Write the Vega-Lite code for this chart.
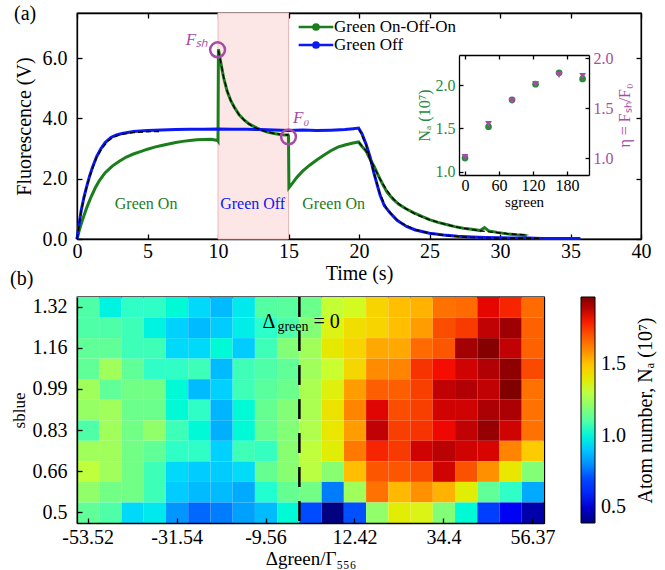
{
"$schema": "https://vega.github.io/schema/vega-lite/v6.json",
"background": "white",
"padding": {"left": 9, "top": 3, "right": 5, "bottom": 5},
"config": {
  "font": "Liberation Serif",
  "text": {"font": "Liberation Serif"},
  "view": {"stroke": "black", "strokeWidth": 1.3},
  "axis": {"labelFont": "Liberation Serif", "titleFont": "Liberation Serif", "labelFontSize": 20, "titleFontSize": 20, "titleFontWeight": "normal", "labelColor": "black", "titleColor": "black", "domainColor": "black", "tickColor": "black", "domainWidth": 1.3, "tickWidth": 1.3, "tickSize": -5, "grid": false, "labelFlush": false, "labelOverlap": false},
  "legend": {"labelFont": "Liberation Serif", "titleFont": "Liberation Serif"},
  "title": {"font": "Liberation Serif", "fontWeight": "normal", "fontSize": 20}
},
"datasets": {
  "shade": [{"t0": 10, "t1": 15}],
  "traces": [
    {"s":"Green On-Off-On","t":0,"V":0},{"s":"Green On-Off-On","t":0.2,"V":0.35},{"s":"Green On-Off-On","t":0.4,"V":0.65},{"s":"Green On-Off-On","t":0.7,"V":1.05},{"s":"Green On-Off-On","t":1.0,"V":1.4},{"s":"Green On-Off-On","t":1.3,"V":1.7},{"s":"Green On-Off-On","t":1.6,"V":1.95},{"s":"Green On-Off-On","t":2.0,"V":2.2},{"s":"Green On-Off-On","t":2.5,"V":2.42},{"s":"Green On-Off-On","t":3.0,"V":2.58},{"s":"Green On-Off-On","t":3.5,"V":2.72},{"s":"Green On-Off-On","t":4.0,"V":2.82},{"s":"Green On-Off-On","t":4.5,"V":2.9},{"s":"Green On-Off-On","t":5.0,"V":2.98},{"s":"Green On-Off-On","t":5.5,"V":3.05},{"s":"Green On-Off-On","t":6.0,"V":3.1},{"s":"Green On-Off-On","t":6.5,"V":3.15},{"s":"Green On-Off-On","t":7.0,"V":3.2},{"s":"Green On-Off-On","t":7.5,"V":3.24},{"s":"Green On-Off-On","t":8.0,"V":3.27},{"s":"Green On-Off-On","t":8.5,"V":3.29},{"s":"Green On-Off-On","t":9.0,"V":3.3},{"s":"Green On-Off-On","t":9.5,"V":3.31},{"s":"Green On-Off-On","t":9.97,"V":3.27},{"s":"Green On-Off-On","t":10.0,"V":3.25},{"s":"Green On-Off-On","t":10.03,"V":6.3},{"s":"Green On-Off-On","t":10.2,"V":5.85},{"s":"Green On-Off-On","t":10.4,"V":5.35},{"s":"Green On-Off-On","t":10.65,"V":4.9},{"s":"Green On-Off-On","t":10.9,"V":4.6},{"s":"Green On-Off-On","t":11.15,"V":4.38},{"s":"Green On-Off-On","t":11.5,"V":4.12},{"s":"Green On-Off-On","t":11.85,"V":3.95},{"s":"Green On-Off-On","t":12.2,"V":3.82},{"s":"Green On-Off-On","t":12.6,"V":3.72},{"s":"Green On-Off-On","t":13.0,"V":3.63},{"s":"Green On-Off-On","t":13.5,"V":3.55},{"s":"Green On-Off-On","t":14.0,"V":3.5},{"s":"Green On-Off-On","t":14.5,"V":3.46},{"s":"Green On-Off-On","t":14.97,"V":3.45},{"s":"Green On-Off-On","t":15.0,"V":3.42},{"s":"Green On-Off-On","t":15.03,"V":1.7},{"s":"Green On-Off-On","t":15.3,"V":1.86},{"s":"Green On-Off-On","t":15.6,"V":2.05},{"s":"Green On-Off-On","t":16.0,"V":2.25},{"s":"Green On-Off-On","t":16.5,"V":2.45},{"s":"Green On-Off-On","t":17.0,"V":2.62},{"s":"Green On-Off-On","t":17.5,"V":2.78},{"s":"Green On-Off-On","t":18.0,"V":2.93},{"s":"Green On-Off-On","t":18.5,"V":3.05},{"s":"Green On-Off-On","t":19.0,"V":3.12},{"s":"Green On-Off-On","t":19.5,"V":3.18},{"s":"Green On-Off-On","t":19.97,"V":3.22},{"s":"Green On-Off-On","t":20.2,"V":3.08},{"s":"Green On-Off-On","t":20.5,"V":2.92},{"s":"Green On-Off-On","t":20.8,"V":2.64},{"s":"Green On-Off-On","t":21.1,"V":2.38},{"s":"Green On-Off-On","t":21.4,"V":2.08},{"s":"Green On-Off-On","t":21.7,"V":1.8},{"s":"Green On-Off-On","t":22.0,"V":1.55},{"s":"Green On-Off-On","t":22.4,"V":1.33},{"s":"Green On-Off-On","t":22.8,"V":1.16},{"s":"Green On-Off-On","t":23.3,"V":1.01},{"s":"Green On-Off-On","t":23.9,"V":0.87},{"s":"Green On-Off-On","t":24.5,"V":0.74},{"s":"Green On-Off-On","t":25.0,"V":0.64},{"s":"Green On-Off-On","t":25.6,"V":0.55},{"s":"Green On-Off-On","t":26.2,"V":0.48},{"s":"Green On-Off-On","t":26.8,"V":0.41},{"s":"Green On-Off-On","t":27.4,"V":0.36},{"s":"Green On-Off-On","t":28.0,"V":0.32},{"s":"Green On-Off-On","t":28.6,"V":0.28},{"s":"Green On-Off-On","t":28.9,"V":0.38},{"s":"Green On-Off-On","t":29.2,"V":0.27},{"s":"Green On-Off-On","t":29.8,"V":0.22},{"s":"Green On-Off-On","t":30.5,"V":0.17},{"s":"Green On-Off-On","t":31.2,"V":0.14},{"s":"Green On-Off-On","t":31.9,"V":0.12},
    {"s":"Green Off","t":0,"V":0},{"s":"Green Off","t":0.15,"V":0.5},{"s":"Green Off","t":0.3,"V":0.95},{"s":"Green Off","t":0.5,"V":1.4},{"s":"Green Off","t":0.7,"V":1.76},{"s":"Green Off","t":0.9,"V":2.1},{"s":"Green Off","t":1.1,"V":2.38},{"s":"Green Off","t":1.4,"V":2.74},{"s":"Green Off","t":1.7,"V":3.0},{"s":"Green Off","t":2.0,"V":3.2},{"s":"Green Off","t":2.4,"V":3.37},{"s":"Green Off","t":2.8,"V":3.45},{"s":"Green Off","t":3.2,"V":3.5},{"s":"Green Off","t":4.0,"V":3.57},{"s":"Green Off","t":5.0,"V":3.6},{"s":"Green Off","t":6.0,"V":3.62},{"s":"Green Off","t":7.0,"V":3.63},{"s":"Green Off","t":8.0,"V":3.64},{"s":"Green Off","t":9.0,"V":3.64},{"s":"Green Off","t":10.0,"V":3.65},{"s":"Green Off","t":11.0,"V":3.64},{"s":"Green Off","t":12.0,"V":3.64},{"s":"Green Off","t":13.0,"V":3.63},{"s":"Green Off","t":14.0,"V":3.62},{"s":"Green Off","t":15.0,"V":3.6},{"s":"Green Off","t":16.0,"V":3.62},{"s":"Green Off","t":17.0,"V":3.6},{"s":"Green Off","t":18.0,"V":3.61},{"s":"Green Off","t":19.0,"V":3.63},{"s":"Green Off","t":19.6,"V":3.66},{"s":"Green Off","t":19.97,"V":3.68},{"s":"Green Off","t":20.2,"V":3.5},{"s":"Green Off","t":20.5,"V":3.15},{"s":"Green Off","t":20.8,"V":2.7},{"s":"Green Off","t":21.05,"V":2.2},{"s":"Green Off","t":21.3,"V":1.78},{"s":"Green Off","t":21.5,"V":1.45},{"s":"Green Off","t":21.8,"V":1.1},{"s":"Green Off","t":22.2,"V":0.87},{"s":"Green Off","t":22.7,"V":0.62},{"s":"Green Off","t":23.4,"V":0.41},{"s":"Green Off","t":24.0,"V":0.3},{"s":"Green Off","t":25.0,"V":0.19},{"s":"Green Off","t":26.0,"V":0.13},{"s":"Green Off","t":27.0,"V":0.09},{"s":"Green Off","t":28.0,"V":0.07},{"s":"Green Off","t":29.0,"V":0.05},{"s":"Green Off","t":30.0,"V":0.04},{"s":"Green Off","t":31.0,"V":0.03},{"s":"Green Off","t":32.0,"V":0.03},{"s":"Green Off","t":33.0,"V":0.02},{"s":"Green Off","t":34.0,"V":0.02},{"s":"Green Off","t":35.0,"V":0.02},{"s":"Green Off","t":35.7,"V":0.02}
  ],
  "fits": [
    {"g":"a","t":0,"V":0},{"g":"a","t":0.3,"V":0.95},{"g":"a","t":0.7,"V":1.76},{"g":"a","t":1.0,"V":2.2},{"g":"a","t":1.4,"V":2.72},{"g":"a","t":1.8,"V":3.02},{"g":"a","t":2.2,"V":3.25},{"g":"a","t":2.6,"V":3.38},{"g":"a","t":3.0,"V":3.45},{"g":"a","t":3.5,"V":3.5},{"g":"a","t":4.0,"V":3.53},{"g":"a","t":5.0,"V":3.56},{"g":"a","t":6.0,"V":3.57},
    {"g":"b","t":10.03,"V":6.25},{"g":"b","t":10.2,"V":5.85},{"g":"b","t":10.4,"V":5.38},{"g":"b","t":10.65,"V":4.92},{"g":"b","t":10.9,"V":4.6},{"g":"b","t":11.2,"V":4.33},{"g":"b","t":11.5,"V":4.12},{"g":"b","t":12.0,"V":3.88},{"g":"b","t":12.5,"V":3.72},{"g":"b","t":13.0,"V":3.62},{"g":"b","t":13.5,"V":3.55},{"g":"b","t":14.0,"V":3.5},{"g":"b","t":14.5,"V":3.47},{"g":"b","t":15.0,"V":3.45},
    {"g":"c","t":20.0,"V":3.2},{"g":"c","t":20.5,"V":2.93},{"g":"c","t":21.0,"V":2.45},{"g":"c","t":21.5,"V":1.98},{"g":"c","t":22.0,"V":1.6},{"g":"c","t":22.5,"V":1.3},{"g":"c","t":23.0,"V":1.1},{"g":"c","t":24.0,"V":0.82},{"g":"c","t":25.0,"V":0.64},{"g":"c","t":26.0,"V":0.5},{"g":"c","t":27.0,"V":0.39},{"g":"c","t":28.0,"V":0.31},{"g":"c","t":29.0,"V":0.25},{"g":"c","t":30.0,"V":0.2},{"g":"c","t":31.0,"V":0.16},{"g":"c","t":32.0,"V":0.13},
    {"g":"d","t":20.0,"V":3.65},{"g":"d","t":20.5,"V":3.12},{"g":"d","t":21.0,"V":2.3},{"g":"d","t":21.5,"V":1.48},{"g":"d","t":22.0,"V":0.98},{"g":"d","t":22.5,"V":0.72},{"g":"d","t":23.0,"V":0.53},{"g":"d","t":24.0,"V":0.31},{"g":"d","t":25.0,"V":0.19},{"g":"d","t":26.0,"V":0.12},{"g":"d","t":27.0,"V":0.08},{"g":"d","t":28.0,"V":0.05},{"g":"d","t":30.0,"V":0.03},{"g":"d","t":33.0,"V":0.02}
  ],
  "circles": [{"t": 9.97, "V": 6.28}, {"t": 15.0, "V": 3.39}],
  "flabels": [{"t": 8.5, "V": 6.62, "label": "Fₛₕ"}, {"t": 15.9, "V": 4.02, "label": "F₀"}],
  "greenText": [{"t": 4.9, "V": 1.17, "label": "Green On"}, {"t": 18.2, "V": 1.17, "label": "Green On"}],
  "blueText": [{"t": 12.46, "V": 1.17, "label": "Green Off"}],
  "inset": [
    {"s": 0, "N": 1.16, "eta": 1.01}, {"s": 41.5, "N": 1.52, "eta": 1.34}, {"s": 83, "N": 1.83, "eta": 1.57},
    {"s": 124.5, "N": 2.01, "eta": 1.74}, {"s": 166, "N": 2.14, "eta": 1.83}, {"s": 207.5, "N": 2.07, "eta": 1.82}
  ],
  "zero": [{"d": 1.43, "sb": 1.24}],
  "cells": [
{"d":-53.52,"sb":1.32,"N":1.10},{"d":-48.03,"sb":1.32,"N":0.99},{"d":-42.53,"sb":1.32,"N":1.04},{"d":-37.04,"sb":1.32,"N":1.04},{"d":-31.54,"sb":1.32,"N":1.01},{"d":-26.05,"sb":1.32,"N":0.935},{"d":-20.55,"sb":1.32,"N":0.88},{"d":-15.06,"sb":1.32,"N":0.97},{"d":-9.56,"sb":1.32,"N":1.11},{"d":-4.07,"sb":1.32,"N":1.12},{"d":1.43,"sb":1.32,"N":1.15},{"d":6.92,"sb":1.32,"N":1.32},{"d":12.42,"sb":1.32,"N":1.35},{"d":17.91,"sb":1.32,"N":1.46},{"d":23.41,"sb":1.32,"N":1.51},{"d":28.9,"sb":1.32,"N":1.53},{"d":34.4,"sb":1.32,"N":1.64},{"d":39.89,"sb":1.32,"N":1.65},{"d":45.39,"sb":1.32,"N":1.83},{"d":50.88,"sb":1.32,"N":1.79},{"d":56.37,"sb":1.32,"N":1.65},
{"d":-53.52,"sb":1.24,"N":1.10},{"d":-48.03,"sb":1.24,"N":1.10},{"d":-42.53,"sb":1.24,"N":1.07},{"d":-37.04,"sb":1.24,"N":0.99},{"d":-31.54,"sb":1.24,"N":0.92},{"d":-26.05,"sb":1.24,"N":0.88},{"d":-20.55,"sb":1.24,"N":0.91},{"d":-15.06,"sb":1.24,"N":0.98},{"d":-9.56,"sb":1.24,"N":1.03},{"d":-4.07,"sb":1.24,"N":1.10},{"d":1.43,"sb":1.24,"N":1.19},{"d":6.92,"sb":1.24,"N":1.37},{"d":12.42,"sb":1.24,"N":1.43},{"d":17.91,"sb":1.24,"N":1.46},{"d":23.41,"sb":1.24,"N":1.51},{"d":28.9,"sb":1.24,"N":1.57},{"d":34.4,"sb":1.24,"N":1.72},{"d":39.89,"sb":1.24,"N":1.76},{"d":45.39,"sb":1.24,"N":1.88},{"d":50.88,"sb":1.24,"N":1.93},{"d":56.37,"sb":1.24,"N":1.67},
{"d":-53.52,"sb":1.16,"N":1.13},{"d":-48.03,"sb":1.16,"N":1.13},{"d":-42.53,"sb":1.16,"N":1.07},{"d":-37.04,"sb":1.16,"N":1.07},{"d":-31.54,"sb":1.16,"N":0.935},{"d":-26.05,"sb":1.16,"N":0.935},{"d":-20.55,"sb":1.16,"N":1.01},{"d":-15.06,"sb":1.16,"N":0.91},{"d":-9.56,"sb":1.16,"N":1.07},{"d":-4.07,"sb":1.16,"N":1.19},{"d":1.43,"sb":1.16,"N":1.25},{"d":6.92,"sb":1.16,"N":1.40},{"d":12.42,"sb":1.16,"N":1.46},{"d":17.91,"sb":1.16,"N":1.55},{"d":23.41,"sb":1.16,"N":1.55},{"d":28.9,"sb":1.16,"N":1.65},{"d":34.4,"sb":1.16,"N":1.70},{"d":39.89,"sb":1.16,"N":1.92},{"d":45.39,"sb":1.16,"N":1.96},{"d":50.88,"sb":1.16,"N":1.88},{"d":56.37,"sb":1.16,"N":1.67},
{"d":-53.52,"sb":1.07,"N":1.13},{"d":-48.03,"sb":1.07,"N":1.25},{"d":-42.53,"sb":1.07,"N":1.13},{"d":-37.04,"sb":1.07,"N":1.04},{"d":-31.54,"sb":1.07,"N":1.04},{"d":-26.05,"sb":1.07,"N":1.07},{"d":-20.55,"sb":1.07,"N":0.88},{"d":-15.06,"sb":1.07,"N":1.07},{"d":-9.56,"sb":1.07,"N":1.10},{"d":-4.07,"sb":1.07,"N":1.13},{"d":1.43,"sb":1.07,"N":1.25},{"d":6.92,"sb":1.07,"N":1.33},{"d":12.42,"sb":1.07,"N":1.45},{"d":17.91,"sb":1.07,"N":1.60},{"d":23.41,"sb":1.07,"N":1.61},{"d":28.9,"sb":1.07,"N":1.77},{"d":34.4,"sb":1.07,"N":1.81},{"d":39.89,"sb":1.07,"N":1.86},{"d":45.39,"sb":1.07,"N":1.90},{"d":50.88,"sb":1.07,"N":1.95},{"d":56.37,"sb":1.07,"N":1.73},
{"d":-53.52,"sb":0.99,"N":1.25},{"d":-48.03,"sb":0.99,"N":1.13},{"d":-42.53,"sb":0.99,"N":1.16},{"d":-37.04,"sb":0.99,"N":1.16},{"d":-31.54,"sb":0.99,"N":1.01},{"d":-26.05,"sb":0.99,"N":0.88},{"d":-20.55,"sb":0.99,"N":0.92},{"d":-15.06,"sb":0.99,"N":1.07},{"d":-9.56,"sb":0.99,"N":1.12},{"d":-4.07,"sb":0.99,"N":1.15},{"d":1.43,"sb":0.99,"N":1.27},{"d":6.92,"sb":0.99,"N":1.38},{"d":12.42,"sb":0.99,"N":1.57},{"d":17.91,"sb":0.99,"N":1.68},{"d":23.41,"sb":0.99,"N":1.68},{"d":28.9,"sb":0.99,"N":1.75},{"d":34.4,"sb":0.99,"N":1.88},{"d":39.89,"sb":0.99,"N":1.90},{"d":45.39,"sb":0.99,"N":1.88},{"d":50.88,"sb":0.99,"N":1.97},{"d":56.37,"sb":0.99,"N":1.64},
{"d":-53.52,"sb":0.91,"N":1.23},{"d":-48.03,"sb":0.91,"N":1.25},{"d":-42.53,"sb":0.91,"N":1.15},{"d":-37.04,"sb":0.91,"N":1.15},{"d":-31.54,"sb":0.91,"N":1.01},{"d":-26.05,"sb":0.91,"N":1.04},{"d":-20.55,"sb":0.91,"N":0.87},{"d":-15.06,"sb":0.91,"N":1.01},{"d":-9.56,"sb":0.91,"N":1.14},{"d":-4.07,"sb":0.91,"N":1.19},{"d":1.43,"sb":0.91,"N":1.27},{"d":6.92,"sb":0.91,"N":1.42},{"d":12.42,"sb":0.91,"N":1.61},{"d":17.91,"sb":0.91,"N":1.84},{"d":23.41,"sb":0.91,"N":1.72},{"d":28.9,"sb":0.91,"N":1.75},{"d":34.4,"sb":0.91,"N":1.86},{"d":39.89,"sb":0.91,"N":1.86},{"d":45.39,"sb":0.91,"N":1.91},{"d":50.88,"sb":0.91,"N":1.91},{"d":56.37,"sb":0.91,"N":1.64},
{"d":-53.52,"sb":0.83,"N":1.10},{"d":-48.03,"sb":0.83,"N":1.25},{"d":-42.53,"sb":0.83,"N":1.16},{"d":-37.04,"sb":0.83,"N":1.22},{"d":-31.54,"sb":0.83,"N":1.07},{"d":-26.05,"sb":0.83,"N":1.01},{"d":-20.55,"sb":0.83,"N":0.86},{"d":-15.06,"sb":0.83,"N":1.01},{"d":-9.56,"sb":0.83,"N":1.14},{"d":-4.07,"sb":0.83,"N":1.19},{"d":1.43,"sb":0.83,"N":1.28},{"d":6.92,"sb":0.83,"N":1.41},{"d":12.42,"sb":0.83,"N":1.57},{"d":17.91,"sb":0.83,"N":1.88},{"d":23.41,"sb":0.83,"N":1.75},{"d":28.9,"sb":0.83,"N":1.77},{"d":34.4,"sb":0.83,"N":1.82},{"d":39.89,"sb":0.83,"N":1.88},{"d":45.39,"sb":0.83,"N":1.94},{"d":50.88,"sb":0.83,"N":1.86},{"d":56.37,"sb":0.83,"N":1.64},
{"d":-53.52,"sb":0.75,"N":1.25},{"d":-48.03,"sb":0.75,"N":1.25},{"d":-42.53,"sb":0.75,"N":1.16},{"d":-37.04,"sb":0.75,"N":1.13},{"d":-31.54,"sb":0.75,"N":1.04},{"d":-26.05,"sb":0.75,"N":1.04},{"d":-20.55,"sb":0.75,"N":0.92},{"d":-15.06,"sb":0.75,"N":1.07},{"d":-9.56,"sb":0.75,"N":1.05},{"d":-4.07,"sb":0.75,"N":1.20},{"d":1.43,"sb":0.75,"N":1.31},{"d":6.92,"sb":0.75,"N":1.39},{"d":12.42,"sb":0.75,"N":1.63},{"d":17.91,"sb":0.75,"N":1.79},{"d":23.41,"sb":0.75,"N":1.76},{"d":28.9,"sb":0.75,"N":1.86},{"d":34.4,"sb":0.75,"N":1.89},{"d":39.89,"sb":0.75,"N":1.86},{"d":45.39,"sb":0.75,"N":1.85},{"d":50.88,"sb":0.75,"N":1.61},{"d":56.37,"sb":0.75,"N":1.48},
{"d":-53.52,"sb":0.66,"N":1.31},{"d":-48.03,"sb":0.66,"N":1.25},{"d":-42.53,"sb":0.66,"N":1.16},{"d":-37.04,"sb":0.66,"N":1.07},{"d":-31.54,"sb":0.66,"N":0.935},{"d":-26.05,"sb":0.66,"N":0.91},{"d":-20.55,"sb":0.66,"N":0.91},{"d":-15.06,"sb":0.66,"N":0.94},{"d":-9.56,"sb":0.66,"N":1.14},{"d":-4.07,"sb":0.66,"N":1.20},{"d":1.43,"sb":0.66,"N":1.30},{"d":6.92,"sb":0.66,"N":1.20},{"d":12.42,"sb":0.66,"N":1.51},{"d":17.91,"sb":0.66,"N":1.70},{"d":23.41,"sb":0.66,"N":1.70},{"d":28.9,"sb":0.66,"N":1.73},{"d":34.4,"sb":0.66,"N":1.86},{"d":39.89,"sb":0.66,"N":1.71},{"d":45.39,"sb":0.66,"N":1.59},{"d":50.88,"sb":0.66,"N":1.41},{"d":56.37,"sb":0.66,"N":1.19},
{"d":-53.52,"sb":0.58,"N":1.22},{"d":-48.03,"sb":0.58,"N":1.16},{"d":-42.53,"sb":0.58,"N":1.16},{"d":-37.04,"sb":0.58,"N":1.07},{"d":-31.54,"sb":0.58,"N":0.91},{"d":-26.05,"sb":0.58,"N":0.88},{"d":-20.55,"sb":0.58,"N":0.88},{"d":-15.06,"sb":0.58,"N":0.85},{"d":-9.56,"sb":0.58,"N":1.02},{"d":-4.07,"sb":0.58,"N":1.14},{"d":1.43,"sb":0.58,"N":1.16},{"d":6.92,"sb":0.58,"N":0.77},{"d":12.42,"sb":0.58,"N":1.25},{"d":17.91,"sb":0.58,"N":1.64},{"d":23.41,"sb":0.58,"N":1.52},{"d":28.9,"sb":0.58,"N":1.59},{"d":34.4,"sb":0.58,"N":1.53},{"d":39.89,"sb":0.58,"N":1.39},{"d":45.39,"sb":0.58,"N":1.13},{"d":50.88,"sb":0.58,"N":1.04},{"d":56.37,"sb":0.58,"N":0.85},
{"d":-53.52,"sb":0.5,"N":1.13},{"d":-48.03,"sb":0.5,"N":1.10},{"d":-42.53,"sb":0.5,"N":0.935},{"d":-37.04,"sb":0.5,"N":0.97},{"d":-31.54,"sb":0.5,"N":0.81},{"d":-26.05,"sb":0.5,"N":0.74},{"d":-20.55,"sb":0.5,"N":0.77},{"d":-15.06,"sb":0.5,"N":0.83},{"d":-9.56,"sb":0.5,"N":0.88},{"d":-4.07,"sb":0.5,"N":1.01},{"d":1.43,"sb":0.5,"N":0.70},{"d":6.92,"sb":0.5,"N":0.39},{"d":12.42,"sb":0.5,"N":0.71},{"d":17.91,"sb":0.5,"N":1.22},{"d":23.41,"sb":0.5,"N":1.39},{"d":28.9,"sb":0.5,"N":1.37},{"d":34.4,"sb":0.5,"N":1.19},{"d":39.89,"sb":0.5,"N":1.01},{"d":45.39,"sb":0.5,"N":0.66},{"d":50.88,"sb":0.5,"N":0.55},{"d":56.37,"sb":0.5,"N":0.45}
  ]
},
"vconcat": [
  {
    "width": 564, "height": 226,
    "title": {"text": "(a)", "anchor": "start", "offset": 0, "dy": 12, "font": "Liberation Serif", "fontWeight": "normal", "fontSize": 20},
    "layer": [
      {
        "layer": [
          {"data": {"name": "shade"}, "mark": {"type": "rect", "fill": "#fde6e6", "stroke": "#f2b8b8", "strokeWidth": 1},
           "encoding": {"x": {"field": "t0", "type": "quantitative", "scale": {"domain": [0, 40], "nice": false}, "axis": null}, "x2": {"field": "t1"}}},
          {"data": {"name": "traces"}, "mark": {"type": "line", "strokeWidth": 3},
           "encoding": {
             "x": {"field": "t", "type": "quantitative", "scale": {"domain": [0, 40], "nice": false}, "axis": {"orient": "bottom", "values": [0,5,10,15,20,25,30,35,40], "title": "Time (s)", "titleFont": "Liberation Serif", "titleFontWeight": "normal", "labelFont": "Liberation Serif", "labelPadding": 7, "titlePadding": 2}},
             "y": {"field": "V", "type": "quantitative", "scale": {"domain": [0, 7.5], "nice": false}, "axis": {"orient": "left", "values": [0,2,4,6], "format": ".1f", "title": "Fluorescence (V)", "titleFont": "Liberation Serif", "titleFontWeight": "normal", "labelFont": "Liberation Serif", "labelPadding": 15, "titlePadding": 8}},
             "color": {"field": "s", "type": "nominal", "scale": {"domain": ["Green On-Off-On", "Green Off"], "range": ["#1b7d1b", "#0b18f0"]},
               "legend": {"orient": "none", "legendX": 229, "legendY": 4, "title": null, "symbolType": "M-2,0L2,0M0.3,0A0.3,0.3,0,1,1,-0.3,0A0.3,0.3,0,1,1,0.3,0", "symbolSize": 300, "symbolStrokeWidth": 2.5, "labelFont": "Liberation Serif", "labelFontSize": 17, "labelOffset": 8, "rowPadding": 0, "padding": 0}}
           }},
          {"data": {"name": "fits"}, "mark": {"type": "line", "color": "black", "strokeWidth": 1.4, "strokeDash": [5, 3]},
           "encoding": {
             "x": {"field": "t", "type": "quantitative", "axis": {"orient": "top", "values": [0,5,10,15,20,25,30,35,40], "labels": false, "title": null}},
             "y": {"field": "V", "type": "quantitative", "axis": {"orient": "right", "values": [0,2,4,6], "labels": false, "title": null}},
             "detail": {"field": "g"}
           }},
          {"data": {"name": "circles"}, "mark": {"type": "point", "shape": "circle", "filled": false, "stroke": "#a64ca6", "strokeWidth": 2.5, "size": 220, "opacity": 1},
           "encoding": {"x": {"field": "t", "type": "quantitative", "axis": null}, "y": {"field": "V", "type": "quantitative", "axis": null}}},
          {"data": {"name": "flabels"}, "mark": {"type": "text", "font": "Liberation Serif", "color": "#a64ca6", "fontSize": 17, "fontStyle": "italic", "align": "center", "baseline": "middle"},
           "encoding": {"x": {"field": "t", "type": "quantitative", "axis": null}, "y": {"field": "V", "type": "quantitative", "axis": null}, "text": {"field": "label"}}},
          {"data": {"name": "greenText"}, "mark": {"type": "text", "font": "Liberation Serif", "color": "#1b7d1b", "fontSize": 16, "align": "center", "baseline": "middle"},
           "encoding": {"x": {"field": "t", "type": "quantitative", "axis": null}, "y": {"field": "V", "type": "quantitative", "axis": null}, "text": {"field": "label"}}},
          {"data": {"name": "blueText"}, "mark": {"type": "text", "font": "Liberation Serif", "color": "#0b18f0", "fontSize": 16, "align": "center", "baseline": "middle"},
           "encoding": {"x": {"field": "t", "type": "quantitative", "axis": null}, "y": {"field": "V", "type": "quantitative", "axis": null}, "text": {"field": "label"}}}
        ],
        "resolve": {"axis": {"x": "independent", "y": "independent"}}
      },
      {
        "data": {"name": "inset"},
        "layer": [
          {"mark": {"type": "point", "shape": "circle", "filled": true, "color": "#2b8a3e", "size": 45, "opacity": 1},
           "encoding": {
             "x": {"field": "s", "type": "quantitative", "scale": {"domain": [-10.6, 218.8], "range": [382, 512], "nice": false, "zero": false},
                   "axis": {"orient": "bottom", "offset": -64, "values": [0, 60, 120, 180], "labelFontSize": 16, "title": "sgreen", "titleFontSize": 15, "tickSize": -4, "labelPadding": 6, "titlePadding": 1}},
             "y": {"field": "N", "type": "quantitative", "scale": {"domain": [0.965, 2.345], "range": [162, 42], "nice": false, "zero": false},
                   "axis": {"orient": "left", "offset": -382, "values": [1, 1.5, 2], "format": ".1f", "labelFontSize": 16, "labelColor": "#2b8a3e", "title": "Nₐ (10⁷)", "titleColor": "#2b8a3e", "titleFontSize": 16, "tickSize": -4, "labelPadding": 8, "titlePadding": 3}}
           }},
          {"mark": {"type": "point", "shape": "triangle-down", "filled": true, "color": "#a64ca6", "size": 45, "opacity": 1},
           "encoding": {
             "x": {"field": "s", "type": "quantitative", "axis": {"orient": "top", "offset": -42, "values": [0, 60, 120, 180], "labels": false, "title": null, "tickSize": -4}},
             "y": {"field": "eta", "type": "quantitative", "scale": {"domain": [0.83, 2.03], "range": [162, 42], "nice": false, "zero": false},
                   "axis": {"orient": "right", "offset": -52, "values": [1, 1.5, 2], "format": ".1f", "labelFontSize": 16, "labelColor": "#a64ca6", "title": "η = Fₛₕ/F₀", "titleColor": "#a64ca6", "titleFontSize": 16, "titleAngle": 270, "titleBaseline": "top", "tickSize": -4, "labelPadding": 8, "titlePadding": 3}}
           }}
        ],
        "resolve": {"scale": {"y": "independent"}, "axis": {"x": "independent", "y": "independent"}}
      }
    ],
    "resolve": {"scale": {"x": "independent", "y": "independent"}, "axis": {"x": "independent", "y": "independent"}}
  },
  {
    "width": 467, "height": 226,
    "title": {"text": "(b)", "anchor": "start", "offset": 7, "font": "Liberation Serif", "fontWeight": "normal", "fontSize": 20},
    "layer": [
      {"data": {"name": "cells"}, "mark": {"type": "rect"},
       "encoding": {
         "x": {"field": "d", "type": "ordinal", "scale": {"paddingInner": 0, "paddingOuter": 0},
               "axis": {"orient": "bottom", "values": [-53.52, -31.54, -9.56, 12.42, 34.4, 56.37], "labelAngle": 0, "bandPosition": 0.5, "title": "Δgreen/Γ₅₅₆", "titleFontSize": 19, "labelPadding": 9, "titlePadding": 2}},
         "y": {"field": "sb", "type": "ordinal", "sort": "descending", "scale": {"paddingInner": 0, "paddingOuter": 0},
               "axis": {"orient": "left", "values": [0.5, 0.66, 0.83, 0.99, 1.16, 1.32], "bandPosition": 0.5, "title": "sblue", "titleFontSize": 17, "labelPadding": 15, "titlePadding": 4}},
         "color": {"field": "N", "type": "quantitative",
                   "scale": {"domain": [0.39, 0.548, 0.706, 0.864, 1.022, 1.18, 1.338, 1.496, 1.654, 1.812, 1.97], "range": ["#000080", "#0000f4", "#004cff", "#00b2ff", "#29ffce", "#7dff7a", "#ceff29", "#ffc600", "#ff6800", "#f40900", "#800000"], "clamp": true},
                   "legend": {"orient": "none", "legendX": 504, "legendY": 0, "direction": "vertical", "gradientLength": 226, "gradientThickness": 14, "values": [0.5, 1.0, 1.5], "format": ".1f", "title": null, "labelFont": "Liberation Serif", "labelFontSize": 20, "labelOffset": 6, "padding": 0, "gradientStrokeColor": "black", "gradientStrokeWidth": 1, "labelOverlap": false}}
       }},
      {"data": {"name": "zero"}, "mark": {"type": "rule", "color": "black", "strokeWidth": 2.5, "strokeDash": [20, 14]},
       "encoding": {"x": {"field": "d", "type": "ordinal", "bandPosition": 0, "axis": null}}},
      {"data": {"name": "zero"}, "mark": {"type": "text", "font": "Liberation Serif", "text": "Δ", "fontSize": 20, "align": "right", "baseline": "alphabetic", "dx": -24, "dy": 0},
       "encoding": {
         "x": {"field": "d", "type": "ordinal", "bandPosition": 0, "axis": {"orient": "top", "values": [-53.52, -31.54, -9.56, 12.42, 34.4, 56.37], "bandPosition": 0.5, "labels": false, "title": null}},
         "y": {"field": "sb", "type": "ordinal", "sort": "descending", "axis": {"orient": "right", "values": [0.5, 0.66, 0.83, 0.99, 1.16, 1.32], "bandPosition": 0.5, "labels": false, "title": null}}
       }},
      {"data": {"name": "zero"}, "mark": {"type": "text", "font": "Liberation Serif", "text": "green", "fontSize": 14, "align": "left", "baseline": "alphabetic", "dx": -22, "dy": 3},
       "encoding": {
         "x": {"field": "d", "type": "ordinal", "bandPosition": 0, "axis": null},
         "y": {"field": "sb", "type": "ordinal", "sort": "descending", "axis": {"orient": "right", "offset": 91, "labels": false, "ticks": false, "domain": false, "title": "Atom number, Nₐ (10⁷)", "titleAngle": 270, "titleBaseline": "top", "titlePadding": 0, "titleFontSize": 20}}
       }},
      {"data": {"name": "zero"}, "mark": {"type": "text", "font": "Liberation Serif", "text": "= 0", "fontSize": 20, "align": "left", "baseline": "alphabetic", "dx": 14, "dy": 0},
       "encoding": {
         "x": {"field": "d", "type": "ordinal", "bandPosition": 0, "axis": null},
         "y": {"field": "sb", "type": "ordinal", "sort": "descending", "axis": null}
       }}
    ],
    "resolve": {"axis": {"x": "independent", "y": "independent"}}
  }
],
"spacing": 58,
"bounds": "flush",
"resolve": {"scale": {"color": "independent"}, "legend": {"color": "independent"}}
}
